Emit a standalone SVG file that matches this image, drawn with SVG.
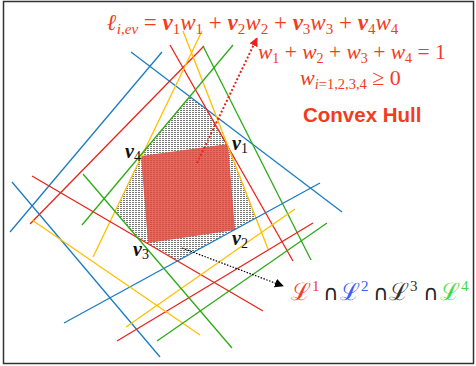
<svg xmlns="http://www.w3.org/2000/svg" width="476" height="366" viewBox="0 0 476 366">
<defs>
<pattern id="hatch" width="3" height="2" patternUnits="userSpaceOnUse">
<rect x="0" y="0" width="2" height="1" fill="#777"/>
</pattern>
<marker id="arrR" viewBox="0 0 10 10" refX="9" refY="5" markerWidth="9" markerHeight="9" orient="auto" markerUnits="userSpaceOnUse">
<path d="M0,0 L10,5 L0,10 z" fill="#E8231A"/>
</marker>
<marker id="arrK" viewBox="0 0 10 10" refX="9" refY="5" markerWidth="9" markerHeight="9" orient="auto" markerUnits="userSpaceOnUse">
<path d="M0,0 L10,5 L0,10 z" fill="#000"/>
</marker>
</defs>
<style>
.ln{stroke-width:1.3;fill:none}
.b{stroke:#1A7CC4}.r{stroke:#E8231A}.y{stroke:#FFBF00}.g{stroke:#2DAA16}
.eq{font-family:"Liberation Serif",serif;fill:#F23C22}
.vl{font-family:"Liberation Serif",serif;fill:#111}
.bi{font-weight:bold;font-style:italic}
.it{font-style:italic}
.sc{font-family:"DejaVu Serif","Liberation Serif",serif;font-size:24px}
.sp{font-family:"Liberation Serif",serif;font-size:15px;font-style:normal}
.cap{font-family:"DejaVu Sans",sans-serif;font-size:21px;fill:#222}
</style>
<rect x="3.5" y="1.5" width="470" height="362" fill="#fff" stroke="#333" stroke-width="1.5"/>
<g id="hull">
<polygon points="189,97 207,109 228.9,146.4 256,218 177.5,261 137,237 115,211 144,151" fill="url(#hatch)"/>
</g>
<g id="square">
<polygon points="141,156 228,144 235,230 148,243" fill="#E4473A" fill-opacity="0.82"/>
</g>
<g id="connectors">
<line class="ln b" x1="131" y1="52" x2="342" y2="212"/>
<line class="ln b" x1="162" y1="52" x2="10" y2="232"/>
<line class="ln r" x1="170" y1="45" x2="293" y2="261"/>
<line class="ln r" x1="204" y1="46" x2="30" y2="224"/>
<line class="ln y" x1="183" y1="31" x2="268" y2="249"/>
<line class="ln y" x1="202" y1="31" x2="93" y2="257"/>
<line class="ln g" x1="203" y1="46" x2="311" y2="260"/>
<line class="ln g" x1="233" y1="45" x2="82" y2="225"/>
<line class="ln b" x1="12" y1="182" x2="160" y2="357"/>
<line class="ln b" x1="320" y1="183" x2="64" y2="323"/>
<line class="ln r" x1="32" y1="176" x2="263" y2="311"/>
<line class="ln r" x1="313" y1="223" x2="117" y2="341"/>
<line class="ln y" x1="32" y1="220" x2="200" y2="335"/>
<line class="ln y" x1="295" y1="209" x2="126" y2="327"/>
<line class="ln g" x1="83" y1="174" x2="232" y2="348"/>
<line class="ln g" x1="327" y1="223" x2="157" y2="341"/>
<line x1="197" y1="163" x2="257" y2="38" stroke="#E8231A" stroke-width="2" stroke-dasharray="2,2" marker-end="url(#arrR)"/>
<line x1="182" y1="248" x2="283" y2="286" stroke="#000" stroke-width="1.2" stroke-dasharray="1.5,1.5" marker-end="url(#arrK)"/>
</g>
<g id="equation">
<text class="eq" x="107" y="30" font-size="23"><tspan class="bi">ℓ</tspan><tspan class="it" font-size="15" dy="4">i,ev</tspan><tspan dy="-4"> = </tspan><tspan class="bi">v</tspan><tspan font-size="15" dy="4">1</tspan><tspan class="it" dy="-4">w</tspan><tspan font-size="15" dy="4">1</tspan><tspan dy="-4"> + </tspan><tspan class="bi">v</tspan><tspan font-size="15" dy="4">2</tspan><tspan class="it" dy="-4">w</tspan><tspan font-size="15" dy="4">2</tspan><tspan dy="-4"> + </tspan><tspan class="bi">v</tspan><tspan font-size="15" dy="4">3</tspan><tspan class="it" dy="-4">w</tspan><tspan font-size="15" dy="4">3</tspan><tspan dy="-4"> + </tspan><tspan class="bi">v</tspan><tspan font-size="15" dy="4">4</tspan><tspan class="it" dy="-4">w</tspan><tspan font-size="15" dy="4">4</tspan></text>
<text class="eq" x="258" y="59" font-size="21.5"><tspan class="it">w</tspan><tspan font-size="14" dy="4">1</tspan><tspan dy="-4"> + </tspan><tspan class="it">w</tspan><tspan font-size="14" dy="4">2</tspan><tspan dy="-4"> + </tspan><tspan class="it">w</tspan><tspan font-size="14" dy="4">3</tspan><tspan dy="-4"> + </tspan><tspan class="it">w</tspan><tspan font-size="14" dy="4">4</tspan><tspan dy="-4"> = 1</tspan></text>
<text class="eq" x="300" y="85" font-size="22"><tspan class="it">w</tspan><tspan class="it" font-size="14.5" dy="4">i</tspan><tspan font-size="14.5">=1,2,3,4</tspan><tspan dy="-4"> ≥ 0</tspan></text>
<text x="303" y="122" font-family="Liberation Sans,Arial,sans-serif" font-weight="bold" font-size="20.5" fill="#F23C22">Convex Hull</text>
</g>
<g id="labels">
<text class="vl" x="232" y="150" font-size="20"><tspan class="bi">v</tspan><tspan font-size="14" dy="3">1</tspan></text>
<text class="vl" x="232" y="245" font-size="20"><tspan class="bi">v</tspan><tspan font-size="14" dy="3">2</tspan></text>
<text class="vl" x="133" y="256" font-size="20"><tspan class="bi">v</tspan><tspan font-size="14" dy="3">3</tspan></text>
<text class="vl" x="125" y="158" font-size="20"><tspan class="bi">v</tspan><tspan font-size="14" dy="3">4</tspan></text>
</g>
<g id="intersection">
<text class="sc" x="291" y="300" fill="#F2402A">ℒ<tspan class="sp" dy="-9" dx="1">1</tspan></text>
<text class="cap" x="323" y="300">∩</text>
<text class="sc" x="340" y="300" fill="#3A5BFF">ℒ<tspan class="sp" dy="-9" dx="1">2</tspan></text>
<text class="cap" x="373" y="300">∩</text>
<text class="sc" x="389" y="300" fill="#333">ℒ<tspan class="sp" dy="-9" dx="1">3</tspan></text>
<text class="cap" x="423" y="300">∩</text>
<text class="sc" x="440" y="300" fill="#3CDC3C">ℒ<tspan class="sp" dy="-9" dx="1">4</tspan></text>
</g>
</svg>
